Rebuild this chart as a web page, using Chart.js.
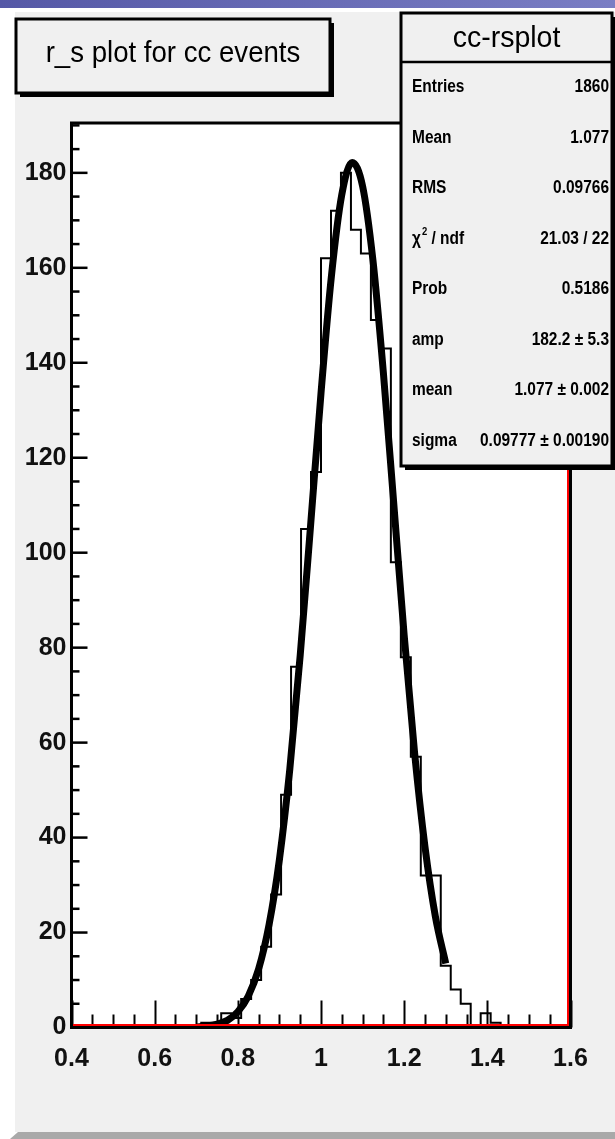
<!DOCTYPE html>
<html>
<head>
<meta charset="utf-8">
<script src="https://cdn.jsdelivr.net/npm/chart.js@4.4.1/dist/chart.umd.min.js"></script>
<style>
  html, body { margin: 0; padding: 0; background: #fff; overflow: hidden; }
  canvas { display: block; }
</style>
</head>
<body>
<canvas id="rsplot" width="615" height="1139"></canvas>
<script>
// histogram cc-rsplot: 50 bins from 0.4 to 1.6 (width 0.024)
const xMin = 0.4;
const xMax = 1.6;
const binWidth = 0.024;
const binCounts = [
  0, 0, 0, 0, 0, 0, 0, 0, 0, 0,
  0, 0, 0, 1, 1, 3, 2, 6, 10, 17,
  28, 49, 76, 105, 117, 162, 172, 180, 168, 163,
  149, 143, 98, 78, 57, 32, 32, 13, 8, 5,
  0, 3, 1, 0, 0, 0, 0, 0, 0, 0
];

// gaussian fit (fit range 0.7 - 1.3)
const fitX = [0.700, 0.725, 0.750, 0.775, 0.800, 0.825, 0.850, 0.875, 0.900, 0.925,
              0.950, 0.975, 1.000, 1.025, 1.050, 1.075, 1.100, 1.125, 1.150, 1.175,
              1.200, 1.225, 1.250, 1.275, 1.300];
const fitY = [0.1, 0.3, 0.7, 1.5, 3.3, 6.6, 12.3, 21.6, 35.4, 54.4,
              78.4, 105.8, 133.6, 158.2, 175.4, 182.2, 177.2, 161.5, 137.9, 110.3,
              82.6, 57.9, 38.1, 23.4, 13.5];

// axes
const yMax = 190.5;
const xTickValues = [0.4, 0.6, 0.8, 1.0, 1.2, 1.4, 1.6];
const xTickLabels = ['0.4', '0.6', '0.8', '1', '1.2', '1.4', '1.6'];
const yTickValues = [0, 20, 40, 60, 80, 100, 120, 140, 160, 180];
const yTickLabels = ['0', '20', '40', '60', '80', '100', '120', '140', '160', '180'];

// texts
const plotTitle = 'r_s plot for cc events';
const statsName = 'cc-rsplot';
const statsLabels = ['Entries', 'Mean', 'RMS', 'chi2', 'Prob', 'amp', 'mean', 'sigma'];
const statsValues = ['1860', '1.077', '0.09766', '21.03 / 22', '0.5186', '182.2 \u00b1 5.3', '1.077 \u00b1 0.002', '0.09777 \u00b1 0.00190'];

const W = 615, H = 1139;
const sans = '"Liberation Sans", Arial, sans-serif';

// build histogram outline points from the bins
const histPoints = binCounts.map((c, i) => ({ x: xMin + i * binWidth, y: c }));
histPoints.push({ x: xMax, y: binCounts[binCounts.length - 1] });
const fitPoints = fitX.map((x, i) => ({ x: x, y: fitY[i] }));

function paveBox(c, x, y, w, h) {
  c.fillStyle = '#000';
  c.fillRect(x + 4, y + 4, w, h);
  c.fillStyle = '#f0f0f0';
  c.fillRect(x, y, w, h);
  c.strokeStyle = '#000';
  c.lineWidth = 3;
  c.strokeRect(x, y, w, h);
}

// text squeezed horizontally (the root text looks condensed)
function squeezed(c, s, x, y, font, align, sx) {
  c.save();
  c.font = font;
  c.textAlign = align;
  c.textBaseline = 'middle';
  c.translate(x, y);
  c.scale(sx, 1);
  c.fillText(s, 0, 0);
  const w = c.measureText(s).width * sx;
  c.restore();
  return w;
}

const rootStyle = {
  id: 'rootStyle',
  beforeDraw(chart) {
    const c = chart.ctx, a = chart.chartArea;
    c.save();
    c.fillStyle = '#ffffff';
    c.fillRect(0, 0, W, H);
    const g = c.createLinearGradient(0, 0, W, 0);
    g.addColorStop(0, '#5558a6');
    g.addColorStop(1, '#7a7ec4');
    c.fillStyle = g;
    c.fillRect(0, 0, W, 8);
    c.fillStyle = '#f0f0f0';
    c.fillRect(15, 12, W - 15, 1120);
    c.fillStyle = '#a9a9a9';
    c.beginPath();
    c.moveTo(18, 1132); c.lineTo(W, 1132); c.lineTo(W, H); c.lineTo(10, H);
    c.closePath();
    c.fill();
    c.fillStyle = '#ffffff';
    c.fillRect(a.left, a.top, a.right - a.left, a.bottom - a.top);
    c.restore();
  },
  afterDatasetsDraw(chart) {
    const c = chart.ctx, a = chart.chartArea;
    const xs = chart.scales.x, ys = chart.scales.y;
    c.save();
    c.strokeStyle = '#000';
    // x ticks (inward): major every 0.2, minor every 0.05
    c.lineWidth = 2;
    for (let k = 0; k <= 24; k++) {
      const px = Math.round(xs.getPixelForValue(xMin + k * 0.05)) + 0.5;
      const len = (k % 4 === 0) ? 27 : 13;
      c.beginPath(); c.moveTo(px, a.bottom); c.lineTo(px, a.bottom - len); c.stroke();
    }
    // y ticks: major every 20, minor every 5
    c.lineWidth = 2.5;
    for (let v = 0; v <= yMax; v += 5) {
      const py = ys.getPixelForValue(v);
      const len = (v % 20 === 0) ? 16 : 8;
      c.beginPath(); c.moveTo(a.left, py); c.lineTo(a.left + len, py); c.stroke();
    }
    // frame
    c.lineWidth = 3;
    c.strokeRect(a.left, a.top, a.right - a.left, a.bottom - a.top);
    c.strokeStyle = '#ff0000';
    c.lineWidth = 2;
    c.beginPath();
    c.moveTo(a.left + 1.5, a.bottom - 2.5); c.lineTo(a.right - 2.5, a.bottom - 2.5);
    c.lineTo(a.right - 2.5, a.top + 1.5);
    c.stroke();
    c.restore();
  },
  afterDraw(chart) {
    const c = chart.ctx;
    c.save();
    c.fillStyle = '#000';
    // title pave
    paveBox(c, 16, 19, 314, 74);
    c.fillStyle = '#000';
    squeezed(c, plotTitle, 173, 54, '30px ' + sans, 'center', 0.92);

    // stats pave
    const bx = 401, by = 13, bw = 211, bh = 453, headH = 49;
    paveBox(c, bx, by, bw, bh);
    c.lineWidth = 2.5;
    c.beginPath(); c.moveTo(bx, by + headH); c.lineTo(bx + bw, by + headH); c.stroke();
    c.fillStyle = '#000';
    squeezed(c, statsName, bx + bw / 2, by + headH / 2 + 1, '30px ' + sans, 'center', 0.95);
    const rowH = (bh - headH) / statsLabels.length;
    const lf = 'bold 18px ' + sans, sx = 0.86;
    statsLabels.forEach((lab, k) => {
      const y = by + headH + rowH * (k + 0.5);
      const lx = bx + 11;
      if (lab === 'chi2') {
        const w1 = squeezed(c, '\u03c7', lx, y, lf, 'left', sx);
        const w2 = squeezed(c, '2', lx + w1 + 1, y - 7, 'bold 11px ' + sans, 'left', sx);
        squeezed(c, ' / ndf', lx + w1 + w2 + 1, y, lf, 'left', sx);
      } else {
        squeezed(c, lab, lx, y, lf, 'left', sx);
      }
      squeezed(c, statsValues[k], 609, y, lf, 'right', sx);
    });
    c.restore();
  }
};

new Chart(document.getElementById('rsplot').getContext('2d'), {
  type: 'line',
  data: {
    datasets: [
      {
        label: 'fit',
        data: fitPoints,
        borderColor: '#000',
        borderWidth: 7,
        borderCapStyle: 'butt',
        borderJoinStyle: 'round',
        cubicInterpolationMode: 'monotone',
        pointRadius: 0,
        fill: false,
        order: 0
      },
      {
        label: 'cc-rsplot',
        data: histPoints,
        borderColor: '#000',
        borderWidth: 2,
        stepped: true,
        pointRadius: 0,
        fill: false,
        order: 1
      }
    ]
  },
  options: {
    responsive: false,
    animation: false,
    devicePixelRatio: 1,
    events: [],
    layout: { padding: { left: 0, top: 123, right: 44.5, bottom: 51.5 } },
    plugins: { legend: { display: false }, tooltip: { enabled: false }, title: { display: false } },
    scales: {
      x: {
        type: 'linear',
        min: xMin,
        max: xMax,
        border: { display: false },
        grid: { display: false, drawTicks: false },
        afterBuildTicks: s => { s.ticks = xTickValues.map(v => ({ value: v })); },
        afterFit: s => { s.height = 60; },
        ticks: {
          autoSkip: false,
          maxRotation: 0,
          padding: 17,
          color: '#111',
          font: { family: sans, size: 25, weight: 'bold' },
          callback: (v, i) => xTickLabels[i]
        }
      },
      y: {
        type: 'linear',
        min: 0,
        max: yMax,
        border: { display: false },
        grid: { display: false, drawTicks: false },
        afterBuildTicks: s => { s.ticks = yTickValues.map(v => ({ value: v })); },
        afterFit: s => { s.width = 71.5; },
        ticks: {
          autoSkip: false,
          padding: 5,
          color: '#111',
          font: { family: sans, size: 25, weight: 'bold' },
          callback: (v, i) => yTickLabels[i]
        }
      }
    }
  },
  plugins: [rootStyle]
});
</script>
</body>
</html>
